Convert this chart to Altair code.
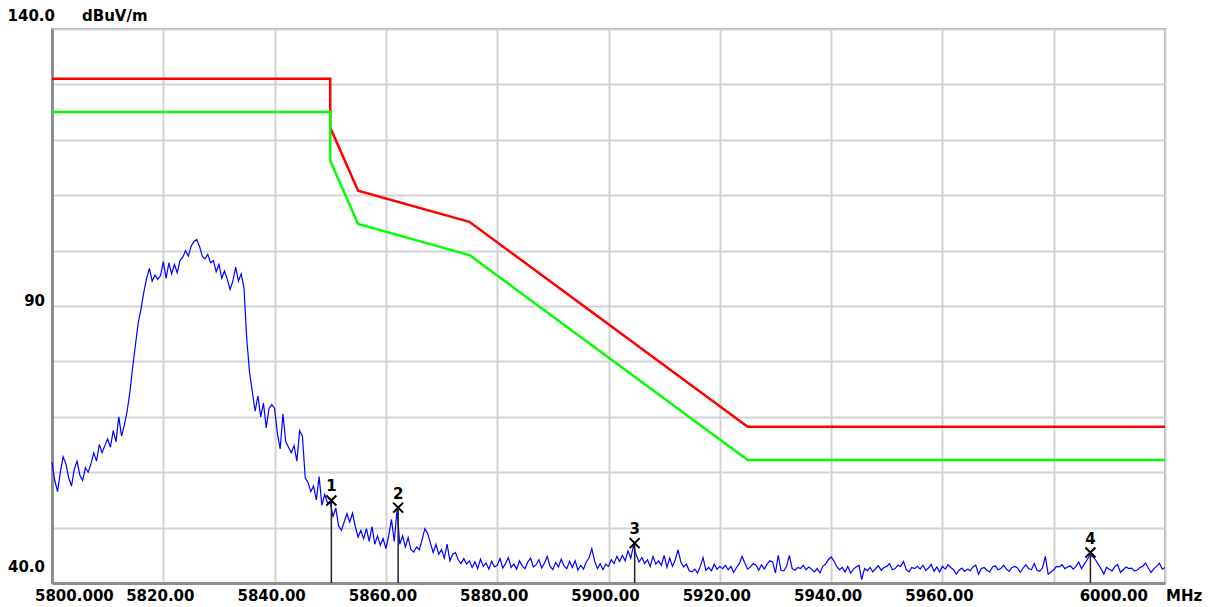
import altair as alt
import pandas as pd

# ---------------- data ----------------
F_START = 5800.0
F_STEP = 0.5
trace_level = [
    61.8, 58.5, 56.5, 60.0, 62.8, 61.5, 59.0, 57.5, 60.5, 62.0,
    59.5, 58.5, 60.8, 60.0, 61.5, 63.5, 62.0, 65.0, 63.5, 64.8,
    66.0, 64.5, 67.5, 65.5, 70.0, 66.5, 68.5, 71.0, 74.5, 79.0,
    83.0, 87.0, 89.5, 92.5, 95.0, 96.8, 94.5, 95.6, 94.8, 95.5,
    98.0, 95.0, 97.8, 95.8, 97.5, 96.0, 98.2, 98.8, 100.0, 99.0,
    100.8, 101.6, 102.0, 100.8, 99.0, 98.5, 99.3, 97.8, 98.2, 96.2,
    97.5, 95.0, 96.3, 94.8, 93.0, 94.5, 97.0, 94.5, 95.8, 93.2,
    84.0, 78.0, 74.5, 71.0, 73.8, 70.0, 72.5, 68.0, 71.5, 72.2,
    71.5, 67.0, 64.2, 70.5, 65.5, 64.5, 63.5, 64.8, 62.0, 67.5,
    66.5, 59.0, 58.2, 56.5, 57.5, 55.0, 59.2, 54.0, 56.0, 54.5,
    54.5, 52.0, 53.5, 50.3, 49.5, 51.0, 52.5, 51.0, 52.6, 50.2,
    48.3, 49.5, 48.0, 49.8, 47.5, 50.2, 47.0, 48.5, 46.8, 48.0,
    46.2, 48.5, 51.5, 47.5, 53.2, 47.0, 48.5, 46.5, 48.2, 46.0,
    45.6, 46.5, 46.0, 47.8, 49.8, 49.0, 47.2, 45.5, 47.0, 45.2,
    46.0, 44.5, 47.0, 44.0, 45.2, 45.5, 44.2, 43.5, 44.4, 43.4,
    44.0, 42.8, 43.8, 42.6, 44.3, 43.0, 43.6, 42.5, 43.9, 42.9,
    43.2, 44.4, 42.7, 43.5, 44.6, 42.8, 43.4, 42.5, 44.0, 43.1,
    42.6, 43.8, 44.5, 42.9, 43.3, 44.2, 42.7, 43.6, 44.8, 43.0,
    42.4, 43.7, 42.9, 44.3, 43.1, 42.6, 43.9, 42.8, 44.0, 42.3,
    43.2, 42.5, 43.8, 44.5, 46.2, 44.0, 42.6, 43.5, 42.4, 43.4,
    43.0, 44.2, 43.5, 44.8, 43.9, 45.0, 44.0, 45.8, 44.5, 46.8,
    45.0, 43.8, 44.6, 43.5, 44.2, 43.0, 44.8, 43.4, 44.0, 43.2,
    45.0, 42.8, 44.5, 43.0, 44.2, 46.0, 43.8, 42.9, 43.4, 42.2,
    42.0, 42.5, 41.8, 43.0, 44.6, 42.3, 42.8, 42.2, 43.4, 42.5,
    43.0, 42.6, 43.2, 42.4, 43.0, 41.9, 42.8, 43.5, 44.8, 43.6,
    42.5, 42.9, 43.5, 43.2, 42.3, 43.3, 42.5, 43.4, 44.0, 43.8,
    41.8, 45.0, 42.3, 42.2, 43.0, 45.0, 42.6, 42.3, 42.8, 42.6,
    43.2, 42.4, 42.9, 42.5, 42.0, 42.6, 41.8, 43.0, 43.4, 44.2,
    44.7, 44.0, 43.0, 42.4, 42.8, 42.0, 43.0, 41.8, 42.5, 42.9,
    43.2, 40.6, 42.6, 42.2, 42.8, 42.0, 42.6, 43.1, 42.3, 42.8,
    43.0, 43.5, 42.4, 42.6, 43.2, 43.0, 43.9, 42.4, 42.0, 42.8,
    42.6, 43.0, 42.5, 43.2, 42.3, 42.7, 43.4, 42.1, 42.9, 42.0,
    43.0, 42.5, 43.3, 42.8, 42.4, 41.6, 42.3, 42.7, 42.1, 42.5,
    42.2, 42.9, 43.2, 41.6, 42.6, 42.8, 42.3, 42.0, 42.9, 43.1,
    42.4, 42.6, 43.2, 42.5, 42.1, 42.8, 43.0, 42.7, 41.9, 42.7,
    43.3, 42.6, 42.4, 43.5, 42.3, 42.1, 42.8, 44.8, 41.6, 42.0,
    42.4, 43.0, 42.9, 43.3, 42.6, 42.9, 43.1, 42.5, 43.0, 43.8,
    42.6, 43.4, 44.2, 45.0, 44.8, 44.2, 43.4, 42.6, 41.6, 42.8,
    42.5, 42.2, 43.0, 43.3, 41.9, 42.4, 42.9, 42.6, 42.7, 42.2,
    42.3, 42.8, 43.0, 43.6, 42.7, 41.9, 42.6, 43.0, 43.6, 42.5,
    42.8,
]
trace_freq = [F_START + i * F_STEP for i in range(len(trace_level))]

limit_freq = [5800, 5850, 5850, 5855, 5875, 5925, 6000]
red_level = [131.0, 131.0, 122.2, 110.8, 105.2, 68.2, 68.2]
green_level = [125.0, 125.0, 116.2, 104.8, 99.2, 62.2, 62.2]

marker_freq = [5850.2, 5862.2, 5904.7, 5986.6]
marker_level = [54.9, 53.6, 47.2, 45.5]
marker_label = ["1", "2", "3", "4"]

x_tick_values = [5800, 5820, 5840, 5860, 5880, 5900, 5920, 5940, 5960]
x_tick_text = ["5800.000", "5820.00", "5840.00", "5860.00", "5880.00",
               "5900.00", "5920.00", "5940.00", "5960.00"]
x_last_value = 6000
x_last_text = "6000.00"
x_unit = "MHz"
x_grid_values = [5800, 5820, 5840, 5860, 5880, 5900, 5920, 5940, 5960, 5980, 6000]

y_label_values = [140, 90, 40]
y_label_text = ["140.0", "90", "40.0"]
y_unit = "dBuV/m"
y_grid_values = [40, 50, 60, 70, 80, 90, 100, 110, 120, 130, 140]

# ---------------- chart ----------------
W, H = 1113, 554
FONT = "DejaVu Sans"
FS = 15

xs = alt.Scale(domain=[5800, 6000], nice=False, zero=False)
ys = alt.Scale(domain=[40, 140], nice=False, zero=False)

x_axis = alt.Axis(values=x_grid_values, grid=True, gridColor="#d3d3d3", gridWidth=2,
                  labels=False, ticks=False, domain=True, domainColor="#8e8e8e",
                  domainWidth=3, title=None)
y_axis = alt.Axis(values=y_grid_values, grid=True, gridColor="#d3d3d3", gridWidth=2,
                  labels=False, ticks=False, domain=True, domainColor="#8e8e8e",
                  domainWidth=3, title=None)


def X(field):
    return alt.X(field, scale=xs, axis=x_axis)


def Y(field):
    return alt.Y(field, scale=ys, axis=y_axis)


trace_df = pd.DataFrame({"freq": trace_freq, "level": trace_level})
red_df = pd.DataFrame({"freq": limit_freq, "level": red_level, "i": range(len(limit_freq))})
green_df = pd.DataFrame({"freq": limit_freq, "level": green_level, "i": range(len(limit_freq))})
mk_df = pd.DataFrame({"freq": marker_freq, "level": marker_level, "label": marker_label,
                      "floor": [40] * len(marker_freq)})

trace = alt.Chart(trace_df).mark_line(color="#0000ff", strokeWidth=1.2).encode(
    x=X("freq:Q"), y=Y("level:Q"),
)


def limit_line(df, color):
    return alt.Chart(df).mark_line(color=color, strokeWidth=2.5).encode(
        x=X("freq:Q"), y=Y("level:Q"), order="i:Q",
    )


red = limit_line(red_df, "#ff0000")
green = limit_line(green_df, "#00ff00")

mk_base = alt.Chart(mk_df).encode(x=X("freq:Q"), y=Y("level:Q"))
mk_rule = mk_base.mark_rule(color="#222222", strokeWidth=1.5).encode(y2="floor:Q")
mk_cross = mk_base.mark_point(shape="M -1 -1 L 1 1 M -1 1 L 1 -1", size=100,
                              filled=False, color="#000000", strokeWidth=2, opacity=1)
mk_text = mk_base.mark_text(font=FONT, fontWeight="bold", fontSize=FS, dy=-14,
                            color="#000000").encode(text="label:N")

TXT = dict(font=FONT, fontWeight="bold", fontSize=FS, baseline="middle", color="#000000")

# x-axis labels
xl_df = pd.DataFrame({"v": x_tick_values, "t": x_tick_text})
xl_first = alt.Chart(xl_df.iloc[:1]).mark_text(align="left", dx=-17, **TXT).encode(
    x=X("v:Q"), y=alt.value(H + 13), text="t:N")
xl_mid = alt.Chart(xl_df.iloc[1:]).mark_text(align="center", dx=-3, **TXT).encode(
    x=X("v:Q"), y=alt.value(H + 13), text="t:N")
xl_last_df = pd.DataFrame({"v": [x_last_value], "t": [x_last_text], "u": [x_unit]})
xl_last = alt.Chart(xl_last_df).mark_text(align="right", dx=-17, **TXT).encode(
    x=X("v:Q"), y=alt.value(H + 13), text="t:N")
xl_unit = alt.Chart(xl_last_df).mark_text(align="left", dx=1, **TXT).encode(
    x=X("v:Q"), y=alt.value(H + 13), text="u:N")

# y-axis labels
yl_df = pd.DataFrame({"v": y_label_values, "t": y_label_text})
yl_top = alt.Chart(yl_df.iloc[:1]).mark_text(align="right", dy=-13, **TXT).encode(
    x=alt.value(3), y=Y("v:Q"), text="t:N")
yl_unit = alt.Chart(pd.DataFrame({"v": [140], "t": [y_unit]})).mark_text(
    align="left", dy=-13, **TXT).encode(x=alt.value(30), y=Y("v:Q"), text="t:N")
yl_mid = alt.Chart(yl_df.iloc[1:2]).mark_text(align="right", dy=-5, **TXT).encode(
    x=alt.value(-7), y=Y("v:Q"), text="t:N")
yl_bot = alt.Chart(yl_df.iloc[2:]).mark_text(align="right", dy=-16, **TXT).encode(
    x=alt.value(-7), y=Y("v:Q"), text="t:N")

chart = alt.layer(
    trace, red, green, mk_rule, mk_cross, mk_text,
    xl_first, xl_mid, xl_last, xl_unit, yl_top, yl_unit, yl_mid, yl_bot,
).properties(
    width=W, height=H,
    autosize=alt.AutoSizeParams(type="none"),
    padding={"left": 44, "top": 21, "right": 37, "bottom": 21},
    background="#ffffff",
).configure_view(
    stroke="#a0a0a0", strokeWidth=2,
)

chart.save("out.html", embed_options={"renderer": "svg", "actions": False})
